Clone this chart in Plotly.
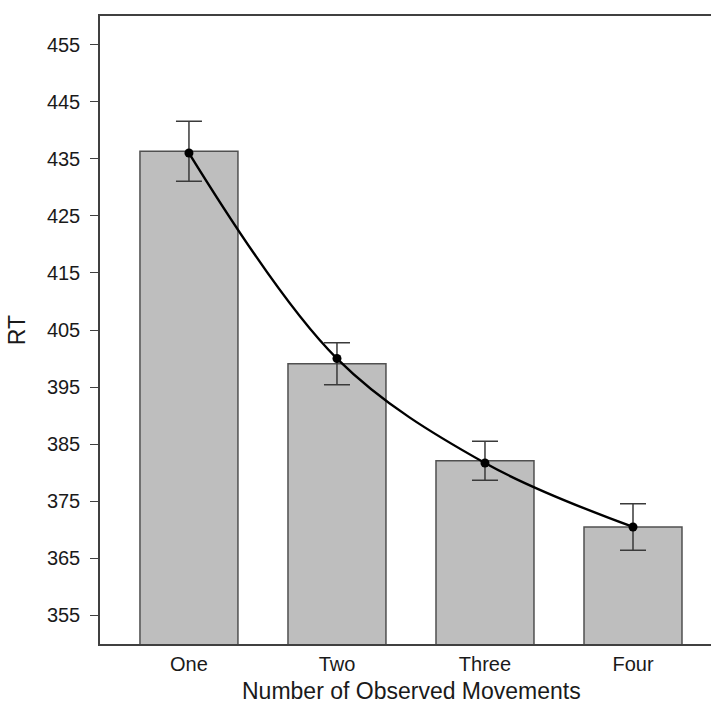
import plotly.graph_objects as go

categories = ["One", "Two", "Three", "Four"]
bar_means = [436.3, 399.1, 382.1, 370.5]
bar_errors = [5.25, 3.67, 3.4, 4.08]
fit_values = [436.0, 400.0, 381.7, 370.5]
y_ticks = [355, 365, 375, 385, 395, 405, 415, 425, 435, 445, 455]

FONT = "Liberation Sans, Arial, Helvetica, sans-serif"

fig = go.Figure()
fig.add_trace(go.Bar(
    x=categories, y=bar_means, width=0.662,
    marker=dict(color="#bebebe", line=dict(color="#505050", width=1.5)),
    error_y=dict(type="data", array=bar_errors, visible=True,
                 color="#3a3a3a", thickness=1.5, width=13),
    showlegend=False,
))
fig.add_trace(go.Scatter(
    x=categories, y=fit_values, mode="lines+markers",
    line=dict(color="black", width=2.4, shape="spline", smoothing=1.0),
    marker=dict(color="black", size=9),
    showlegend=False,
))

fig.update_layout(
    width=711, height=705,
    margin=dict(l=100, r=0, t=16, b=61),
    paper_bgcolor="white", plot_bgcolor="white",
    font=dict(family=FONT, size=20, color="#1a1a1a"),
    xaxis=dict(
        range=[-0.601, 3.527], showgrid=False, zeroline=False,
        showline=True, linecolor="#404040", linewidth=1.5, mirror=True,
        ticks="", ticklabelstandoff=1,
    ),
    yaxis=dict(
        range=[350, 460], showgrid=False, zeroline=False,
        showline=True, linecolor="#404040", linewidth=1.5,
        ticks="outside", ticklen=8, tickwidth=1.3, tickcolor="#404040",
        tickvals=y_ticks, ticklabelstandoff=6,
        title=dict(text="RT", standoff=15, font=dict(size=23)),
    ),
    annotations=[dict(
        text="Number of Observed Movements", xref="paper", yref="paper",
        x=0.5106, y=0, xanchor="center", yanchor="middle", yshift=-47,
        showarrow=False, font=dict(size=23),
    )],
)

fig.write_html("out.html")
